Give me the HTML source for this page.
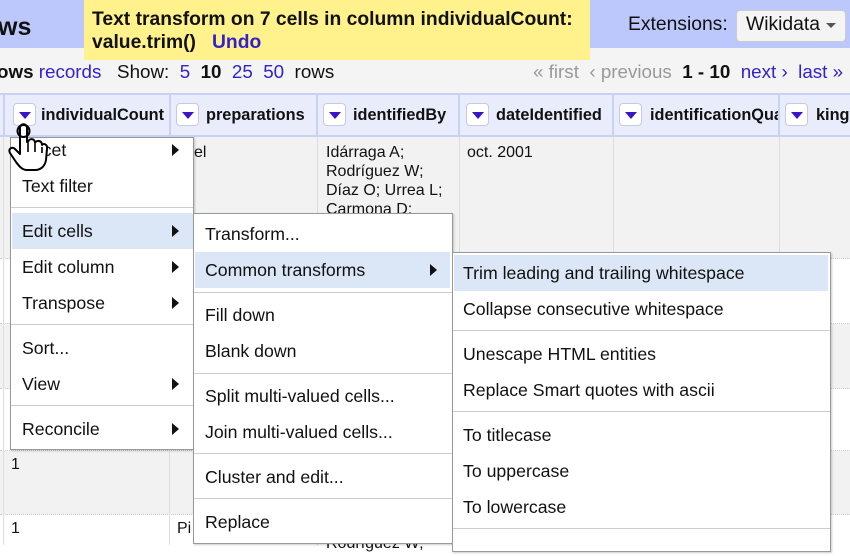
<!DOCTYPE html>
<html><head><meta charset="utf-8"><style>
*{margin:0;padding:0;box-sizing:border-box}
body{width:850px;height:545px;overflow:hidden;position:relative;background:#fff;font-family:"Liberation Sans",sans-serif;color:#111}
.a{position:absolute;white-space:nowrap}
.t{position:absolute;white-space:nowrap;font-size:17.7px;line-height:24px}
.lk{color:#3322cc}
.hd{position:absolute;top:95px;height:42px;background:#e9ecfa;border-right:2px solid #c9d2f5}
.btn{position:absolute;top:8px;left:8px;width:23px;height:23px;background:#fff;border:1px solid #c8c8e0;border-radius:4px}
.btn:after{content:"";position:absolute;left:5px;top:8px;border-left:6px solid transparent;border-right:6px solid transparent;border-top:7px solid #3a14c8}
.hl{position:absolute;left:40px;top:9px;font-weight:bold;font-size:16.3px;line-height:22px}
.menu{position:absolute;background:#fff;border:1px solid #999;box-shadow:1px 1px 2px rgba(0,0,0,.2)}
.sep{position:absolute;height:1px;background:#ccc}
.hi{position:absolute;background:#dbe6f6}
.ar{position:absolute;width:0;height:0;border-top:6px solid transparent;border-bottom:6px solid transparent;border-left:7px solid #111}
.row{position:absolute;left:0;width:850px;border-bottom:1px dotted #ccc}
</style></head><body>
<div class="a" style="left:0;top:0;width:850px;height:48px;background:#bcc8fb"></div>
<div class="a" style="left:0;top:48px;width:850px;height:47px;background:#f4f4f4"></div>
<div class="a" style="left:-2px;top:12px;font-size:25px;font-weight:bold;line-height:30px">ws</div>
<div class="a" style="left:84px;top:0;width:506px;height:60px;background:#fff28c"></div>
<div class="a" style="left:92px;top:8px;font-size:19.3px;font-weight:bold;line-height:23px">Text transform on 7 cells in column individualCount:<br>value.trim()&nbsp;&nbsp;&nbsp;<span class="lk">Undo</span></div>
<div class="a" style="left:628px;top:13px;font-size:19.3px;line-height:24px">Extensions:</div>
<div class="a" style="left:736px;top:10px;width:110px;height:32px;background:#f4f4f4;border:1px solid #ccc;border-radius:4px"></div>
<div class="a" style="left:746px;top:13px;font-size:19.3px;line-height:24px">Wikidata</div>
<div class="a" style="left:826px;top:23px;border-left:5px solid transparent;border-right:5px solid transparent;border-top:5px solid #555"></div>
<div class="a" style="left:-3px;top:60px;font-size:18.8px;line-height:24px"><b>ows</b> <span class="lk">records</span>&nbsp;&nbsp;&nbsp;Show:&nbsp; <span class="lk">5</span>&nbsp; <b>10</b>&nbsp; <span class="lk">25</span>&nbsp; <span class="lk">50</span>&nbsp; rows</div>
<div class="a" style="left:533px;top:60px;font-size:18.8px;line-height:24px"><span style="color:#999">« first&nbsp; ‹ previous</span>&nbsp; <b>1 - 10</b>&nbsp; <span class="lk">next ›</span>&nbsp; <span class="lk">last »</span></div>
<!-- data rows -->
<div class="a" style="left:0;top:137px;width:850px;height:408px;background:#fff"></div>
<div class="row" style="top:137px;height:122px;background:#f2f2f2"></div>
<div class="row" style="top:259px;height:65px;background:#fff"></div>
<div class="row" style="top:324px;height:65px;background:#f2f2f2"></div>
<div class="row" style="top:389px;height:62px;background:#fff"></div>
<div class="row" style="top:451px;height:64px;background:#f2f2f2"></div>
<div class="a" style="left:3px;top:137px;width:1px;height:408px;background:#ddd"></div>
<div class="a" style="left:169px;top:137px;width:1px;height:408px;background:#ddd"></div>
<div class="a" style="left:317px;top:137px;width:1px;height:408px;background:#ddd"></div>
<div class="a" style="left:459px;top:137px;width:1px;height:408px;background:#ddd"></div>
<div class="a" style="left:613px;top:137px;width:1px;height:408px;background:#ddd"></div>
<div class="a" style="left:779px;top:137px;width:1px;height:408px;background:#ddd"></div>
<div class="t" style="left:194px;top:141px;font-size:16px">el</div>
<div class="a" style="left:326px;top:143px;font-size:16px;line-height:19px">Idárraga A;<br>Rodríguez W;<br>Díaz O; Urrea L;<br>Carmona D;</div>
<div class="t" style="left:467px;top:141px;font-size:16px">oct. 2001</div>
<div class="t" style="left:11px;top:453px;font-size:16px">1</div>
<div class="t" style="left:11px;top:517px;font-size:16px">1</div>
<div class="t" style="left:177px;top:517px;font-size:16px">Pi</div>
<div class="t" style="left:326px;top:532px;font-size:16px">Rodríguez W;</div>
<!-- header -->
<div class="a" style="left:0;top:93px;width:850px;height:2px;background:#c9d2f5"></div>
<div class="hd" style="left:0;width:5px"></div>
<div class="hd" style="left:5px;width:166px"><div class="btn"></div><div class="hl" style="left:36px">individualCount</div></div>
<div class="hd" style="left:171px;width:147px"><div class="btn" style="left:5px"></div><div class="hl" style="left:35px">preparations</div></div>
<div class="hd" style="left:318px;width:142px"><div class="btn" style="left:5px"></div><div class="hl" style="left:35px">identifiedBy</div></div>
<div class="hd" style="left:460px;width:154px"><div class="btn" style="left:6px"></div><div class="hl" style="left:36px">dateIdentified</div></div>
<div class="hd" style="left:614px;width:166px;overflow:hidden"><div class="btn" style="left:5px"></div><div class="hl" style="left:36px">identificationQua</div></div>
<div class="hd" style="left:780px;width:70px;overflow:hidden;border-right:0"><div class="btn" style="left:5px"></div><div class="hl" style="left:36px">kingdom</div></div>
<div class="a" style="left:0;top:135px;width:850px;height:2px;background:#c9d2f5"></div>
<!-- menu 1 -->
<div class="menu" style="left:10px;top:137px;width:184px;height:313px"></div>
<div class="t" style="left:22px;top:138px">Facet</div><div class="ar" style="left:172px;top:144px"></div>
<div class="t" style="left:22px;top:174px">Text filter</div>
<div class="sep" style="left:11px;top:207px;width:182px"></div>
<div class="hi" style="left:12px;top:213px;width:181px;height:36px"></div>
<div class="t" style="left:22px;top:219px">Edit cells</div><div class="ar" style="left:172px;top:225px"></div>
<div class="t" style="left:22px;top:255px">Edit column</div><div class="ar" style="left:172px;top:261px"></div>
<div class="t" style="left:22px;top:291px">Transpose</div><div class="ar" style="left:172px;top:297px"></div>
<div class="sep" style="left:11px;top:324px;width:182px"></div>
<div class="t" style="left:22px;top:336px">Sort...</div>
<div class="t" style="left:22px;top:372px">View</div><div class="ar" style="left:172px;top:378px"></div>
<div class="sep" style="left:11px;top:405px;width:182px"></div>
<div class="t" style="left:22px;top:417px">Reconcile</div><div class="ar" style="left:172px;top:423px"></div>
<!-- menu 2 -->
<div class="menu" style="left:193px;top:213px;width:260px;height:331px"></div>
<div class="t" style="left:205px;top:222px">Transform...</div>
<div class="hi" style="left:195px;top:252px;width:255px;height:36px"></div>
<div class="t" style="left:205px;top:258px">Common transforms</div><div class="ar" style="left:430px;top:264px"></div>
<div class="sep" style="left:194px;top:292px;width:258px"></div>
<div class="t" style="left:205px;top:303px">Fill down</div>
<div class="t" style="left:205px;top:339px">Blank down</div>
<div class="sep" style="left:194px;top:373px;width:258px"></div>
<div class="t" style="left:205px;top:384px">Split multi-valued cells...</div>
<div class="t" style="left:205px;top:420px">Join multi-valued cells...</div>
<div class="sep" style="left:194px;top:453px;width:258px"></div>
<div class="t" style="left:205px;top:465px">Cluster and edit...</div>
<div class="sep" style="left:194px;top:498px;width:258px"></div>
<div class="t" style="left:205px;top:510px">Replace</div>
<!-- menu 3 -->
<div class="menu" style="left:452px;top:252px;width:379px;height:300px"></div>
<div class="hi" style="left:454px;top:255px;width:374px;height:36px"></div>
<div class="t" style="left:463px;top:261px">Trim leading and trailing whitespace</div>
<div class="t" style="left:463px;top:297px">Collapse consecutive whitespace</div>
<div class="sep" style="left:453px;top:330px;width:377px"></div>
<div class="t" style="left:463px;top:342px">Unescape HTML entities</div>
<div class="t" style="left:463px;top:378px">Replace Smart quotes with ascii</div>
<div class="sep" style="left:453px;top:411px;width:377px"></div>
<div class="t" style="left:463px;top:423px">To titlecase</div>
<div class="t" style="left:463px;top:459px">To uppercase</div>
<div class="t" style="left:463px;top:495px">To lowercase</div>
<div class="sep" style="left:453px;top:528px;width:377px"></div>
<!-- hand cursor -->
<svg class="a" style="left:8px;top:122px" width="40" height="52" viewBox="0 0 40 52">
<path d="M12 6 C12 1 19 1 19 6 L19 20 L20 20 C21 16 27 16 27 21 C28 18 34 18 34 23 C35 21 40 22 39 27 L38 38 C37 44 33 48 27 48 L19 48 C14 48 11 44 8 40 L2 31 C0 27 4 24 7 27 L12 32 Z" fill="#fff" stroke="#000" stroke-width="2" stroke-linejoin="round"/>
<path d="M20 21 L20 30 M27 22 L27 30 M34 25 L34 31" stroke="#000" stroke-width="1.6" fill="none"/>
<circle cx="15.5" cy="9" r="6" fill="none" stroke="#000" stroke-width="2"/>
</svg>
</body></html>
